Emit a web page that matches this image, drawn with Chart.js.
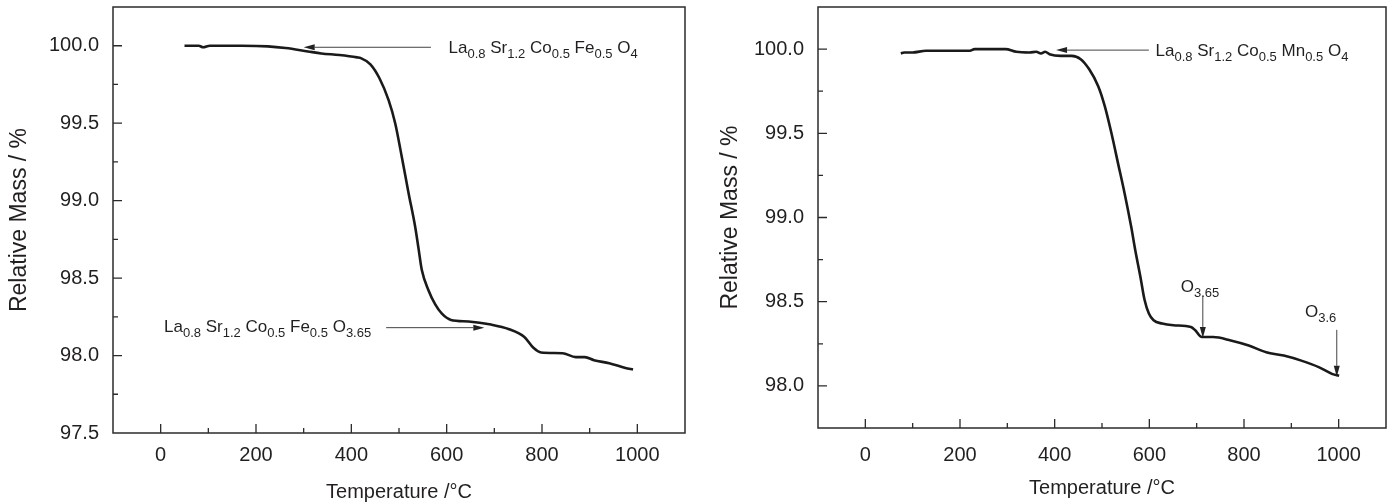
<!DOCTYPE html>
<html>
<head>
<meta charset="utf-8">
<script src="https://cdn.jsdelivr.net/npm/chart.js@4/dist/chart.umd.min.js"></script>
<style>
  body { margin: 0; background: #fff; }
  #wrap { position: relative; width: 1391px; height: 502px; }
  canvas { position: absolute; top: 0; }
</style>
</head>
<body>
<div id="wrap">
  <canvas id="graficoFe" width="700" height="502" style="left:0"></canvas>
  <canvas id="graficoMn" width="691" height="502" style="left:700px"></canvas>
</div>
<script>
// dati: temperatura (°C) e massa relativa (%)
var tempFe = [50, 80, 89, 103, 169, 225, 262, 309, 337, 375, 412, 420, 440, 459, 478, 492, 506, 520, 534, 541,
  548, 562, 576, 590, 609, 646, 693, 731, 763, 782, 798, 843, 871, 890, 909, 941, 975, 991];
var massaFe = [100.0, 100.0, 99.99, 100.0, 100.0, 99.996, 99.985, 99.963, 99.95, 99.94, 99.925, 99.92, 99.88, 99.79, 99.65, 99.5, 99.28, 99.05, 98.83, 98.69,
  98.55, 98.42, 98.33, 98.27, 98.23, 98.22, 98.2, 98.17, 98.12, 98.05, 98.02, 98.015, 97.99, 97.99, 97.97, 97.95, 97.92, 97.91];

var tempMn = [75, 82, 100, 128, 137, 221, 231, 296, 319, 347, 361, 371, 380, 389, 413, 436, 455, 473, 492, 506,
  520, 534, 548, 562, 570, 581, 590, 599, 609, 627, 651, 688, 697, 711, 735, 772, 810, 847, 884, 921, 959, 987, 1001];
var massaMn = [99.974, 99.98, 99.98, 99.99, 99.99, 99.99, 100.0, 100.0, 99.984, 99.98, 99.984, 99.974, 99.984, 99.97, 99.96, 99.96, 99.94, 99.88, 99.78, 99.66,
  99.5, 99.32, 99.14, 98.94, 98.81, 98.65, 98.51, 98.43, 98.39, 98.37, 98.36, 98.35, 98.33, 98.29, 98.29, 98.27, 98.24, 98.2, 98.18, 98.15, 98.11, 98.07, 98.06];

// assi
var xMin = -100, xMax = 1100, xStep = 100, xLabelStep = 200;
var yStep = 0.25, yLabelStep = 0.5;
var yRangeFe = [97.5, 100.25];
var yRangeMn = [97.75, 100.25];

// annotazioni: testo con pedici [testo, pedice]
var testiFe = [
  { parti: [['La', '0.8'], [' Sr', '1.2'], [' Co', '0.5'], [' Fe', '0.5'], [' O', '4']], x: 604, y: 99.985, align: 'left' },
  { parti: [['La', '0.8'], [' Sr', '1.2'], [' Co', '0.5'], [' Fe', '0.5'], [' O', '3.65']], x: 7, y: 98.18, align: 'left' }
];
var frecceFe = [
  { x1: 567, y1: 99.99, x2: 300, y2: 99.99 },
  { x1: 473, y1: 98.18, x2: 679, y2: 98.18 }
];
var testiMn = [
  { parti: [['La', '0.8'], [' Sr', '1.2'], [' Co', '0.5'], [' Mn', '0.5'], [' O', '4']], x: 613, y: 99.984, align: 'left' },
  { parti: [['O', '3.65']], x: 707, y: 98.585, align: 'center' },
  { parti: [['O', '3.6']], x: 962, y: 98.436, align: 'center' }
];
var frecceMn = [
  { x1: 599, y1: 99.994, x2: 403, y2: 99.994 },
  { x1: 713, y1: 98.536, x2: 713, y2: 98.285 },
  { x1: 996, y1: 98.333, x2: 996, y2: 98.054 }
];

var FONT = '"Liberation Sans", Arial, sans-serif';
var INK = '#231f20';

function isMultiplo(v, passo) {
  var r = v / passo;
  return Math.abs(r - Math.round(r)) < 1e-6;
}

// cornice, tacche interne e annotazioni
var pluginCornice = {
  id: 'cornice',
  afterDraw: function (chart) {
    var ctx = chart.ctx, a = chart.chartArea;
    var xs = chart.scales.x, ys = chart.scales.y;
    var opt = chart.options.plugins.cornice;
    ctx.save();
    ctx.strokeStyle = '#2b2b2b';
    ctx.lineWidth = 1.5;
    ctx.strokeRect(a.left, a.top, a.right - a.left, a.bottom - a.top);

    ctx.lineWidth = 1.3;
    ctx.beginPath();
    xs.ticks.forEach(function (t) {
      if (t.value <= xMin || t.value >= xMax) return;
      var px = xs.getPixelForValue(t.value);
      var len = isMultiplo(t.value, xLabelStep) ? 9 : 5;
      ctx.moveTo(px, a.bottom);
      ctx.lineTo(px, a.bottom - len);
    });
    ys.ticks.forEach(function (t) {
      if (t.value <= ys.min + 1e-6 || t.value >= ys.max - 1e-6) return;
      var py = ys.getPixelForValue(t.value);
      var len = isMultiplo(t.value, yLabelStep) ? 9 : 5;
      ctx.moveTo(a.left, py);
      ctx.lineTo(a.left + len, py);
    });
    ctx.stroke();

    // frecce
    ctx.strokeStyle = '#444';
    ctx.fillStyle = '#222';
    ctx.lineWidth = 1;
    opt.frecce.forEach(function (f) {
      var x1 = xs.getPixelForValue(f.x1), y1 = ys.getPixelForValue(f.y1);
      var x2 = xs.getPixelForValue(f.x2), y2 = ys.getPixelForValue(f.y2);
      var ang = Math.atan2(y2 - y1, x2 - x1);
      var lung = 11, semi = 3;
      ctx.beginPath();
      ctx.moveTo(x1, y1);
      ctx.lineTo(x2 - Math.cos(ang) * lung, y2 - Math.sin(ang) * lung);
      ctx.stroke();
      ctx.beginPath();
      ctx.moveTo(x2, y2);
      ctx.lineTo(x2 - Math.cos(ang) * lung - Math.sin(ang) * semi, y2 - Math.sin(ang) * lung + Math.cos(ang) * semi);
      ctx.lineTo(x2 - Math.cos(ang) * lung + Math.sin(ang) * semi, y2 - Math.sin(ang) * lung - Math.cos(ang) * semi);
      ctx.closePath();
      ctx.fill();
    });

    // testi con pedici
    ctx.fillStyle = INK;
    ctx.textBaseline = 'middle';
    ctx.textAlign = 'left';
    var fMain = '17px ' + FONT, fSub = '13px ' + FONT;
    opt.testi.forEach(function (n) {
      var larghezza = 0;
      n.parti.forEach(function (p) {
        ctx.font = fMain; larghezza += ctx.measureText(p[0]).width;
        ctx.font = fSub; larghezza += ctx.measureText(p[1]).width;
      });
      var x = xs.getPixelForValue(n.x), y = ys.getPixelForValue(n.y);
      if (n.align === 'center') x -= larghezza / 2;
      n.parti.forEach(function (p) {
        ctx.font = fMain; ctx.fillText(p[0], x, y); x += ctx.measureText(p[0]).width;
        ctx.font = fSub; ctx.fillText(p[1], x, y + 6); x += ctx.measureText(p[1]).width;
      });
    });
    ctx.restore();
  }
};

function creaGrafico(idCanvas, temp, massa, yRange, larghezzaY, altezzaX, padDestra, padTitoloY, padTickX, padTitoloX, testi, frecce) {
  var punti = temp.map(function (t, i) { return { x: t, y: massa[i] }; });
  return new Chart(document.getElementById(idCanvas), {
    type: 'scatter',
    data: {
      datasets: [{
        data: punti,
        showLine: true,
        borderColor: '#1a1a1a',
        borderWidth: 2.6,
        pointRadius: 0,
        cubicInterpolationMode: 'monotone'
      }]
    },
    options: {
      responsive: false,
      animation: false,
      layout: { padding: { top: 7, right: padDestra, left: 0, bottom: 0 } },
      plugins: {
        legend: { display: false },
        tooltip: { enabled: false },
        cornice: { testi: testi, frecce: frecce }
      },
      scales: {
        x: {
          type: 'linear',
          min: xMin,
          max: xMax,
          grid: { display: false, drawTicks: false },
          border: { display: false },
          ticks: {
            stepSize: xStep,
            autoSkip: false,
            maxRotation: 0,
            padding: padTickX,
            color: INK,
            font: { family: FONT, size: 20 },
            callback: function (v) {
              return (isMultiplo(v, xLabelStep) && v >= 0 && v <= 1000) ? String(v) : '';
            }
          },
          title: {
            display: true,
            text: 'Temperature /\u00b0C',
            color: INK,
            font: { family: FONT, size: 20, lineHeight: 1 },
            padding: { top: 0, bottom: padTitoloX }
          },
          afterFit: function (s) {
            s.height = altezzaX;
            s.paddingLeft = 0; s.paddingRight = 0;
          }
        },
        y: {
          type: 'linear',
          min: yRange[0],
          max: yRange[1],
          grid: { display: false, drawTicks: false },
          border: { display: false },
          ticks: {
            stepSize: yStep,
            autoSkip: false,
            padding: 14,
            color: INK,
            font: { family: FONT, size: 20 },
            callback: function (v) {
              return isMultiplo(v, yLabelStep) ? Number(v).toFixed(1) : '';
            }
          },
          title: {
            display: true,
            text: 'Relative Mass / %',
            color: INK,
            font: { family: FONT, size: 23, lineHeight: 1 },
            padding: { top: padTitoloY, bottom: 0 }
          },
          afterFit: function (s) {
            s.width = larghezzaY;
            s.paddingTop = 0; s.paddingBottom = 0;
          }
        }
      }
    },
    plugins: [pluginCornice]
  });
}

var graficoFe = creaGrafico('graficoFe', tempFe, massaFe, yRangeFe, 113, 69, 15, 8, 10, 0, testiFe, frecceFe);
var graficoMn = creaGrafico('graficoMn', tempMn, massaMn, yRangeMn, 118, 74, 5, 19, 15, 4, testiMn, frecceMn);
</script>
</body>
</html>
